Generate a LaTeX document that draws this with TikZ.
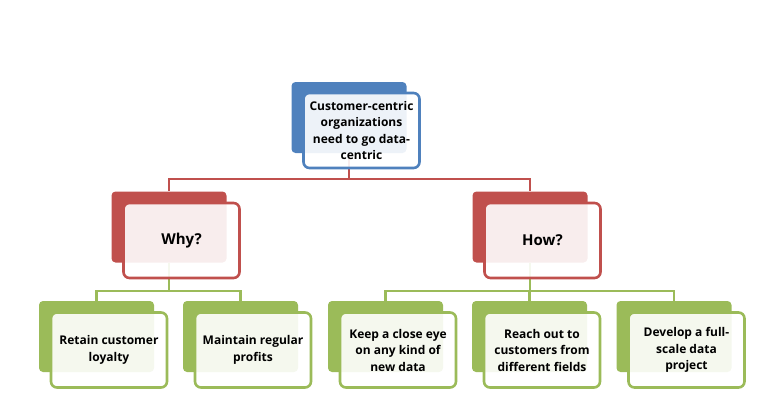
\documentclass[tikz,border=0pt]{standalone}
\usepackage{fontspec}
\setmainfont{Open Sans}
\definecolor{boxblue}{HTML}{4F81BD}
\definecolor{boxred}{HTML}{C0504D}
\definecolor{boxgreen}{HTML}{9BBB59}
\tikzset{
    back/.style={minimum width=115, minimum height=71, rounded corners=4pt, fill=#1, inner sep=0pt},
    front/.style={minimum width=116, minimum height=75, rounded corners=6pt, draw=#1, line width=2.6pt,
        fill=white, fill opacity=0.9, text opacity=1, align=center, inner sep=0pt,
        font=\fontsize{12}{16.5}\selectfont\bfseries},
    link/.style={draw=#1, line width=2.4pt}
}

\begin{document}
\begin{tikzpicture}[x=1pt,y=-1pt]
    \useasboundingbox (0,0) rectangle (772,400);
    \node[back=boxblue] (Tb) at (349,117.5) {};
    \node[back=boxred] (Wb) at (169,227) {};
    \node[back=boxred] (Hb) at (530,227) {};
    \node[back=boxgreen] (W1b) at (96.5,336.5) {};
    \node[back=boxgreen] (W2b) at (240.5,336.5) {};
    \node[back=boxgreen] (H1b) at (385.5,336.5) {};
    \node[back=boxgreen] (H2b) at (529.5,336.5) {};
    \node[back=boxgreen] (H3b) at (674,336.5) {};
    \draw[link=boxred] (Tb.south) -- ++(0,26) -| (Wb.north);
    \draw[link=boxred] (Tb.south) -- ++(0,26) -| (Hb.north);
    \draw[link=boxgreen] (Wb.south) -- ++(0,28) -| (W1b.north);
    \draw[link=boxgreen] (Wb.south) -- ++(0,28) -| (W2b.north);
    \draw[link=boxgreen] (Hb.south) -- ++(0,28) -| (H1b.north);
    \draw[link=boxgreen] (Hb.south) -- ++(0,28) -| (H2b.north);
    \draw[link=boxgreen] (Hb.south) -- ++(0,28) -| (H3b.north);
    \node[front=boxblue] (T) at (361.5,130.5)
        {Customer-centric\\organizations\\need to go data-\\centric};
    \node[front=boxred, font=\fontsize{15}{17}\selectfont\bfseries] (W) at (181.5,240.5) {Why?};
    \node[front=boxred, font=\fontsize{15}{17}\selectfont\bfseries] (H) at (542.5,240.5) {How?};
    \node[front=boxgreen] (W1) at (109,350) {Retain customer\\loyalty};
    \node[front=boxgreen] (W2) at (253,350) {Maintain regular\\profits};
    \node[front=boxgreen] (H1) at (398,350) {Keep a close eye\\on any kind of\\new data};
    \node[front=boxgreen] (H2) at (542,350) {Reach out to\\customers from\\different fields};
    \node[front=boxgreen] (H3) at (686.5,350) {Develop a full-\\scale data\\project};
\end{tikzpicture}
\end{document}
